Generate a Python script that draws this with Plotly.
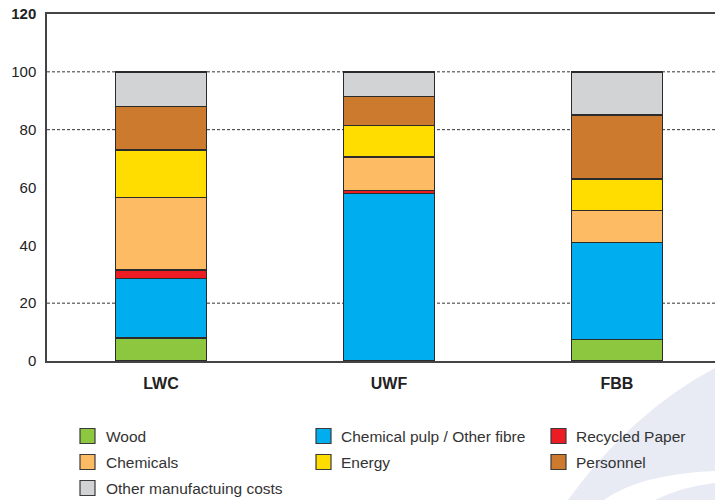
import plotly.graph_objects as go

# Cost structure (% of total production cost) per paper grade
products = ["LWC", "UWF", "FBB"]
wood = [8, 0, 7.5]
chemical_pulp = [20.5, 58, 33.5]
recycled_paper = [3, 1, 0]
chemicals = [25, 11.5, 11]
energy = [16.5, 11, 11]
personnel = [15, 10, 22]
other_costs = [12, 8.5, 15]

component_names = [
    "Wood", "Chemical pulp / Other fibre", "Recycled Paper",
    "Chemicals", "Energy", "Personnel", "Other manufactuing costs",
]
component_values = [wood, chemical_pulp, recycled_paper, chemicals,
                    energy, personnel, other_costs]
component_colors = ["#8dc63f", "#00aeef", "#ed1c24", "#fdbb63",
                    "#ffdd00", "#cc7a2e", "#d1d3d4"]

y_ticks = [0, 20, 40, 60, 80, 100, 120]
grid_levels = [20, 80, 100]

FONT = "Liberation Sans, Arial, Helvetica, sans-serif"
W, H = 715, 500
ML, MR, MT, MB = 47, 0, 14, 139
PW, PH = W - ML - MR, H - MT - MB


def paper(px, py):
    """Pixel position on the page -> paper coordinates of the plot area."""
    return (px - ML) / PW, (H - MB - py) / PH


fig = go.Figure()
for name, vals, color in zip(component_names, component_values, component_colors):
    fig.add_trace(go.Bar(
        x=products, y=vals, name=name, width=0.4,
        marker=dict(color=color, line=dict(color="#2b2b2b", width=1.5)),
        showlegend=False, hoverinfo="x+y+name",
    ))

shapes = []
# dotted reference lines behind the bars
for g in grid_levels:
    shapes.append(dict(type="line", xref="paper", yref="y", x0=0, x1=1, y0=g, y1=g,
                       line=dict(color="#333333", width=1, dash="3px,2px"),
                       layer="below"))


def path(points_cmds):
    out = []
    for cmd, pts in points_cmds:
        coords = " ".join(f"{paper(x, y)[0]:.4f},{paper(x, y)[1]:.4f}" for x, y in pts)
        out.append(f"{cmd} {coords}")
    return " ".join(out) + " Z"


# pale decorative swoosh in the lower right corner
swoosh_a = path([("M", [(715, 368)]),
                 ("Q", [(632, 412), (568, 500)]),
                 ("L", [(604, 500)]),
                 ("Q", [(640, 474), (715, 471)])])
swoosh_b = path([("M", [(655, 500)]),
                 ("Q", [(684, 486), (715, 483)]),
                 ("L", [(715, 500)])])
for p in (swoosh_a, swoosh_b):
    shapes.append(dict(type="path", xref="paper", yref="paper", path=p,
                       fillcolor="#e8ebf4", line=dict(width=0), layer="below"))

# legend: three columns, swatch + label
legend_cols = [(80, 104), (316, 339), (551, 574)]
legend_rows = [436, 462, 488]
annotations = []
for i, (name, color) in enumerate(zip(component_names, component_colors)):
    row, col = divmod(i, 3)
    sx, tx = legend_cols[col]
    cy = legend_rows[row]
    x0, y0 = paper(sx, cy + 7.5)
    x1, y1 = paper(sx + 15, cy - 7.5)
    shapes.append(dict(type="rect", xref="paper", yref="paper",
                       x0=x0, x1=x1, y0=y0, y1=y1, fillcolor=color,
                       line=dict(color="#3a3a3a", width=1.2), layer="above"))
    ax, ay = paper(tx, cy)
    annotations.append(dict(xref="paper", yref="paper", x=ax, y=ay, text=name,
                            showarrow=False, xanchor="left", yanchor="middle",
                            font=dict(family=FONT, size=15.5, color="#333333")))

fig.update_layout(
    width=W, height=H,
    margin=dict(l=ML, r=MR, t=MT, b=MB, pad=0),
    barmode="stack",
    paper_bgcolor="white", plot_bgcolor="rgba(0,0,0,0)",
    font=dict(family=FONT, color="#222222"),
    shapes=shapes, annotations=annotations,
    xaxis=dict(range=[-0.5, 2.43], showline=True, linecolor="#444444", linewidth=1.5,
               mirror=True, ticks="", showgrid=False, fixedrange=True,
               tickfont=dict(family=FONT, size=16, color="#222222", weight="bold"),
               ticklabelstandoff=7),
    yaxis=dict(range=[0, 120], tickvals=y_ticks,
               ticktext=[f"<b>{v}</b>" if v == 120 else str(v) for v in y_ticks],
               showline=True, linecolor="#444444", linewidth=1.5, ticks="",
               showgrid=False, zeroline=False, fixedrange=True,
               tickfont=dict(family=FONT, size=15, color="#222222"),
               ticklabelstandoff=6),
    showlegend=False,
)

fig.write_html("out.html")
